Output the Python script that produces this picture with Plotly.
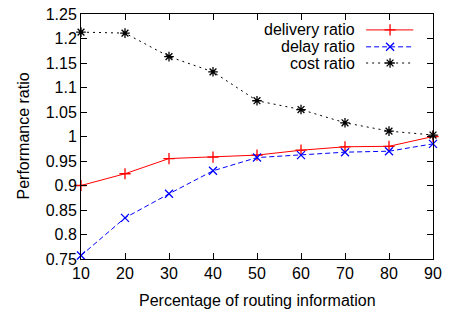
import plotly.graph_objects as go

pct = [10, 20, 30, 40, 50, 60, 70, 80, 90]
delivery = [0.900, 0.924, 0.955, 0.958, 0.962, 0.972, 0.979, 0.980, 1.000]
delay = [0.757, 0.834, 0.883, 0.930, 0.957, 0.962, 0.968, 0.970, 0.985]
cost = [1.213, 1.211, 1.163, 1.132, 1.073, 1.055, 1.028, 1.011, 1.003]
ytick_vals = [0.75, 0.8, 0.85, 0.9, 0.95, 1.0, 1.05, 1.1, 1.15, 1.2, 1.25]
ytick_text = ["0.75", "0.8", "0.85", "0.9", "0.95", "1", "1.05", "1.1", "1.15", "1.2", "1.25"]
names = ["delivery ratio", "delay ratio", "cost ratio"]
x_title = "Percentage of routing information"
y_title = "Performance ratio"

FONT = "Liberation Sans, Arial, sans-serif"
FS = 16
styles = [
    dict(color="#ff0000", dash="solid", symbol="cross-thin-open"),
    dict(color="#0000ff", dash="5px,3px", symbol="x-thin-open"),
    dict(color="#000000", dash="2px,4px", symbol="asterisk-open"),
]
series = [delivery, delay, cost]

fig = go.Figure()
for s, st in zip(series, styles):
    fig.add_trace(go.Scatter(
        x=pct, y=s, mode="lines+markers",
        line=dict(color=st["color"], width=1, dash=st["dash"]),
        marker=dict(symbol=st["symbol"], size=8, color=st["color"],
                    line=dict(color=st["color"], width=1.3)),
        showlegend=False, cliponaxis=False,
    ))

# manual legend (key on the right of the text, gnuplot style)
leg_y = [0.935, 0.866, 0.800]
for name, st, ly in zip(names, styles, leg_y):
    fig.add_trace(go.Scatter(
        x=[0.81, 0.944], y=[ly, ly], mode="lines", xaxis="x2", yaxis="y2",
        line=dict(color=st["color"], width=1, dash=st["dash"]), showlegend=False,
        hoverinfo="skip",
    ))
    fig.add_trace(go.Scatter(
        x=[0.878], y=[ly], mode="markers", xaxis="x2", yaxis="y2",
        marker=dict(symbol=st["symbol"], size=8, color=st["color"],
                    line=dict(color=st["color"], width=1.3)),
        showlegend=False, hoverinfo="skip",
    ))
    fig.add_annotation(
        x=0.785, y=ly, xref="x2", yref="y2", text=name, showarrow=False,
        xanchor="right", yanchor="middle", font=dict(family=FONT, size=FS, color="black"),
    )

fig.add_annotation(x=0.5, y=0, xref="paper", yref="paper", yshift=-41, yanchor="middle",
                   xanchor="center",
                   text=x_title, showarrow=False, font=dict(family=FONT, size=FS, color="black"))
fig.add_annotation(x=0, y=0.5, xref="paper", yref="paper", xshift=-58, textangle=-90,
                   xanchor="center", yanchor="middle",
                   text=y_title, showarrow=False, font=dict(family=FONT, size=FS, color="black"))

axis_common = dict(
    showline=True, linecolor="black", linewidth=1, mirror="allticks",
    ticks="inside", ticklen=6, tickcolor="black", tickwidth=1,
    showgrid=False, zeroline=False, automargin=False,
    tickfont=dict(family=FONT, size=FS, color="black"),
)

fig.update_layout(
    width=451, height=309,
    margin=dict(l=81, r=18, t=14, b=50),
    paper_bgcolor="white", plot_bgcolor="white",
    xaxis=dict(range=[10, 90], tickvals=pct, **axis_common),
    yaxis=dict(range=[0.75, 1.25], tickvals=ytick_vals, ticktext=ytick_text, **axis_common),
    xaxis2=dict(overlaying="x", range=[0, 1], visible=False),
    yaxis2=dict(overlaying="y", range=[0, 1], visible=False),
)

fig.write_html("out.html", config={"displayModeBar": False},
               post_script="document.body.style.margin='0';document.body.style.overflow='hidden';")
